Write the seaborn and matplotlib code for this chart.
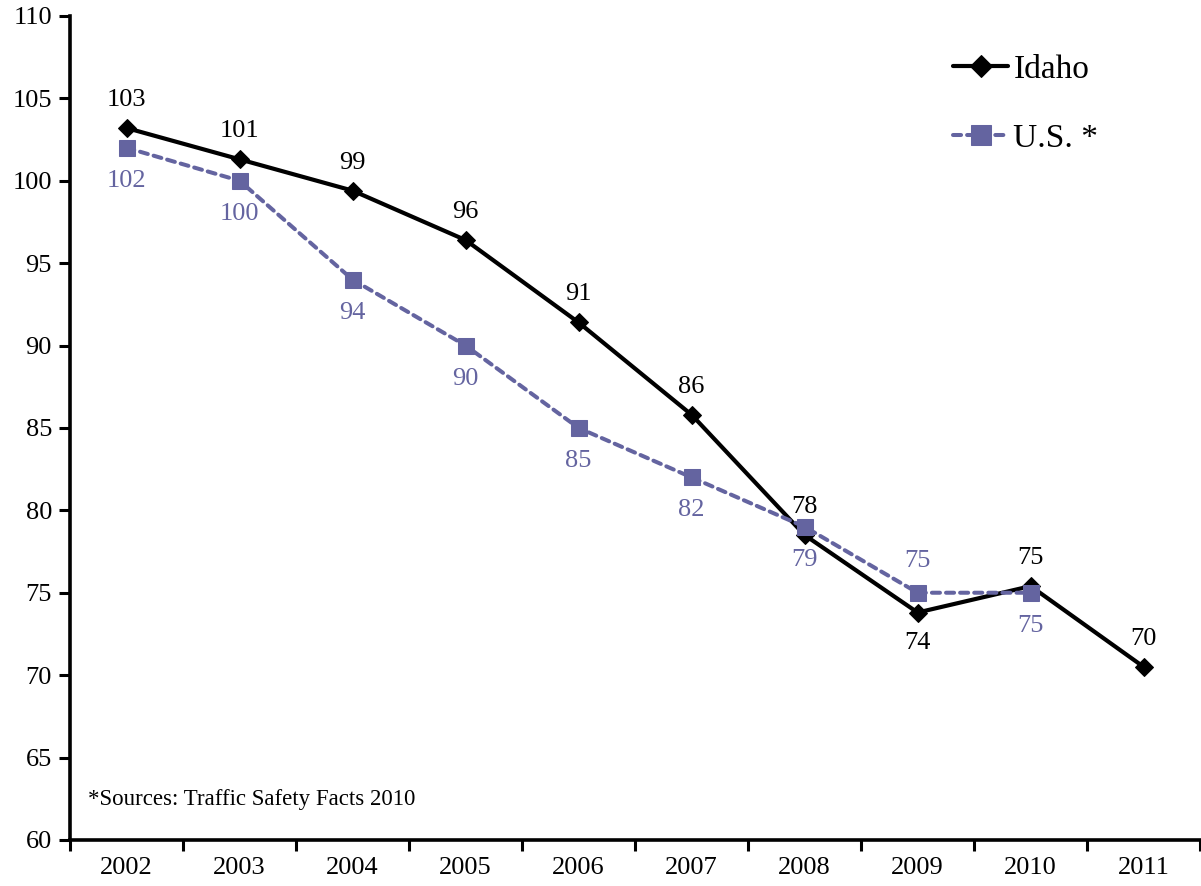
import numpy as np
import pandas as pd
import matplotlib
matplotlib.use("Agg")
import matplotlib.pyplot as plt
import seaborn as sns

years = ["2002", "2003", "2004", "2005", "2006", "2007", "2008", "2009", "2010", "2011"]
idaho = [103.2, 101.3, 99.4, 96.4, 91.4, 85.8, 78.5, 73.8, 75.4, 70.5]
us = [102.0, 100.0, 94.0, 90.0, 85.0, 82.0, 79.0, 75.0, 75.0]
idaho_labels = ["103", "101", "99", "96", "91", "86", "78", "74", "75", "70"]
us_labels = ["102", "100", "94", "90", "85", "82", "79", "75", "75"]

sns.set_style("white")
plt.rcParams["font.family"] = ["Liberation Serif", "DejaVu Serif"]
plt.rcParams["text.color"] = "black"

df_id = pd.DataFrame({"x": np.arange(len(idaho)), "value": idaho})
df_us = pd.DataFrame({"x": np.arange(len(us)), "value": us})

us_color = "#6464A0"

fig = plt.figure(figsize=(12.01, 8.86), dpi=100)
ax = fig.add_axes([0.0583, 0.052, 0.941, 0.930])

sns.lineplot(data=df_id, x="x", y="value", ax=ax, color="black", lw=3,
             marker="D", markersize=9, markeredgecolor="black", label="Idaho", sort=False)
sns.lineplot(data=df_us, x="x", y="value", ax=ax, color=us_color, lw=2.9,
             marker="s", markersize=11, markeredgecolor=us_color, label="U.S. *", sort=False)
ax.lines[1].set_dashes([2.0, 1.5])
ax.lines[1].set_dash_capstyle("round")

# value labels: Idaho above (except 2009), US below (except 2009)
for i, (v, t) in enumerate(zip(idaho, idaho_labels)):
    dy = -30 if i == 7 else 28
    ax.annotate(t, (i, v), xytext=(0, dy), textcoords="offset pixels",
                ha="center", va="center", fontsize=19, color="black")
for i, (v, t) in enumerate(zip(us, us_labels)):
    dy = 32 if i == 7 else -33
    ax.annotate(t, (i, v), xytext=(0, dy), textcoords="offset pixels",
                ha="center", va="center", fontsize=19, color=us_color)

ax.set_xlim(-0.5, 9.5)
ax.set_ylim(60, 110)
ax.set_yticks(np.arange(60, 111, 5))
ax.set_xticks(np.arange(-0.5, 10, 1))
ax.set_xticklabels([])
ax.set_xticks(np.arange(10), minor=True)
ax.set_xticklabels(years, minor=True)
ax.tick_params(axis="x", which="major", bottom=True, direction="out", length=8, width=2.2, color="black")
ax.tick_params(axis="x", which="minor", bottom=True, length=0, labelsize=19, labelcolor="black", pad=12)
ax.tick_params(axis="y", left=True, direction="out", length=8, width=2.2, color="black",
               labelsize=19, labelcolor="black", pad=5)
ax.set_xlabel("")
ax.set_ylabel("")

for s in ["top", "right"]:
    ax.spines[s].set_visible(False)
for s in ["left", "bottom"]:
    ax.spines[s].set_linewidth(2.6)
    ax.spines[s].set_color("black")

ax.text(0.016, 0.036, "*Sources: Traffic Safety Facts 2010", transform=ax.transAxes,
        fontsize=16.5, ha="left", va="bottom")

leg = ax.legend(loc="upper left", bbox_to_anchor=(0.755, 0.99), frameon=False, fontsize=24,
                handlelength=1.65, handletextpad=0.15, labelspacing=1.15, markerscale=1.3)
for t in leg.get_texts():
    t.set_color("black")

fig.savefig("out.png", dpi=100)
